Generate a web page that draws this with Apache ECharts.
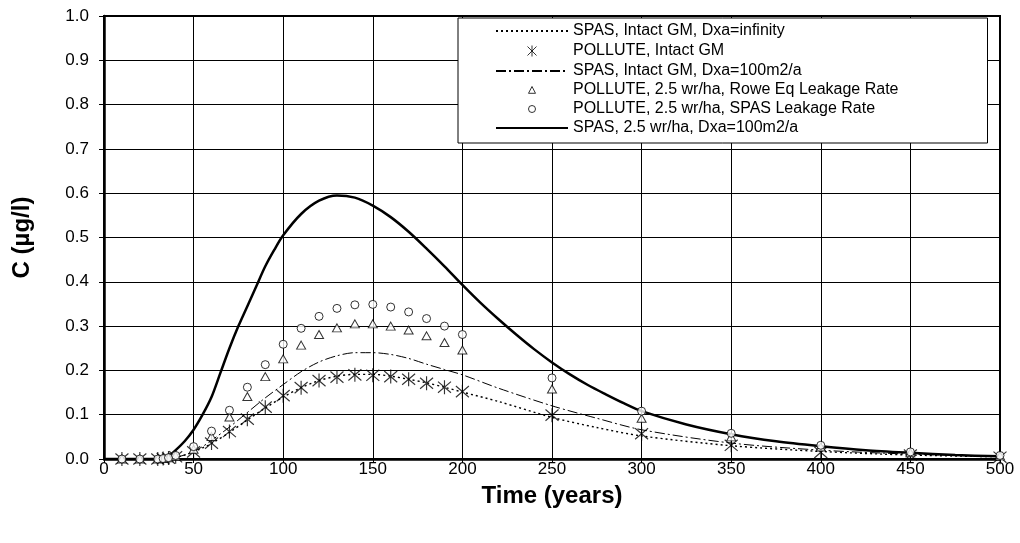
<!DOCTYPE html>
<html>
<head>
<meta charset="utf-8">
<script src="https://cdn.jsdelivr.net/npm/echarts@6/dist/echarts.min.js"></script>
<style>
html,body{margin:0;padding:0;background:#fff;}
#chart{width:1020px;height:543px;}
</style>
</head>
<body>
<div id="chart"></div>
<script>
// ---- Data ----
const seriesNames = [
  'SPAS, Intact GM, Dxa=infinity',
  'POLLUTE, Intact GM',
  'SPAS, Intact GM, Dxa=100m2/a',
  'POLLUTE, 2.5 wr/ha, Rowe Eq Leakage Rate',
  'POLLUTE, 2.5 wr/ha, SPAS Leakage Rate',
  'SPAS, 2.5 wr/ha, Dxa=100m2/a'
];

const xTicks = [0, 50, 100, 150, 200, 250, 300, 350, 400, 450, 500];
const yTicks = [0.0, 0.1, 0.2, 0.3, 0.4, 0.5, 0.6, 0.7, 0.8, 0.9, 1.0];

// POLLUTE sample times (shared by the three marker series)
const polluteTimes = [10, 20, 30, 33, 36, 40, 50, 60, 70, 80, 90, 100, 110, 120, 130, 140, 150, 160, 170, 180, 190, 200, 250, 300, 350, 400, 450, 500];
const polluteIntact = [0, 0, 0, 0.001, 0.002, 0.005, 0.016, 0.036, 0.062, 0.09, 0.117, 0.143, 0.161, 0.177, 0.185, 0.19, 0.189, 0.186, 0.18, 0.171, 0.162, 0.152, 0.099, 0.057, 0.031, 0.015, 0.009, 0.004];
const polluteRowe = [0, 0, 0, 0.001, 0.003, 0.007, 0.022, 0.051, 0.095, 0.141, 0.186, 0.226, 0.257, 0.281, 0.296, 0.305, 0.305, 0.300, 0.291, 0.278, 0.263, 0.246, 0.158, 0.092, 0.05, 0.027, 0.014, 0.007];
const polluteSpasRate = [0, 0, 0, 0.001, 0.003, 0.008, 0.028, 0.063, 0.11, 0.162, 0.213, 0.259, 0.295, 0.322, 0.34, 0.348, 0.349, 0.343, 0.332, 0.317, 0.3, 0.281, 0.183, 0.108, 0.058, 0.031, 0.016, 0.008];

// SPAS, Intact GM, Dxa=infinity (dotted)
const spasInfTimes = [0, 10, 20, 30, 35, 40, 45, 50, 55, 60, 70, 80, 90, 100, 110, 120, 130, 140, 150, 160, 170, 180, 190, 200, 220, 250, 275, 300, 350, 400, 450, 500];
const spasInfVals = [0, 0, 0, 0, 0.001, 0.004, 0.009, 0.016, 0.025, 0.035, 0.06, 0.088, 0.115, 0.14, 0.161, 0.177, 0.187, 0.191, 0.191, 0.187, 0.18, 0.172, 0.162, 0.151, 0.13, 0.094, 0.071, 0.052, 0.03, 0.017, 0.009, 0.005];

// SPAS, Intact GM, Dxa=100m2/a (dash-dot)
const spas100Times = [0, 30, 35, 40, 45, 50, 55, 60, 70, 80, 90, 100, 110, 120, 130, 140, 150, 160, 170, 180, 190, 200, 220, 250, 275, 300, 350, 400, 450, 500];
const spas100Vals = [0, 0, 0.001, 0.004, 0.009, 0.017, 0.028, 0.042, 0.072, 0.105, 0.138, 0.168, 0.197, 0.219, 0.233, 0.24, 0.24, 0.236, 0.227, 0.214, 0.202, 0.19, 0.16, 0.12, 0.092, 0.066, 0.036, 0.02, 0.011, 0.006];

// SPAS, 2.5 wr/ha, Dxa=100m2/a (solid)
const spasHoleTimes = [0, 30, 35, 40, 45, 50, 55, 60, 65, 70, 75, 80, 85, 90, 95, 100, 110, 120, 130, 140, 150, 160, 170, 180, 190, 200, 210, 220, 230, 240, 250, 260, 270, 280, 290, 300, 325, 350, 375, 400, 425, 450, 475, 500];
const spasHoleVals = [0, 0, 0.003, 0.02, 0.04, 0.066, 0.1, 0.14, 0.195, 0.25, 0.3, 0.345, 0.39, 0.435, 0.472, 0.505, 0.553, 0.583, 0.595, 0.59, 0.572, 0.546, 0.513, 0.475, 0.435, 0.393, 0.353, 0.316, 0.281, 0.248, 0.218, 0.191, 0.167, 0.146, 0.126, 0.108, 0.078, 0.056, 0.04, 0.029, 0.02, 0.014, 0.009, 0.006];

function pairs(xs, ys) { return xs.map((x, i) => [x, ys[i]]); }

const FONT = "'Liberation Sans', Arial, sans-serif";
const asteriskPath = 'path://M6,0L6,12M0.8,1.2L11.2,10.8M0.8,10.8L11.2,1.2';

const chart = echarts.init(document.getElementById('chart'), null, {renderer: 'canvas'});
chart.setOption({
  animation: false,
  backgroundColor: '#fff',
  textStyle: {fontFamily: FONT},
  grid: {left: 104, right: 20, top: 16, bottom: 84, show: true, borderColor: '#000', borderWidth: 2, backgroundColor: 'transparent'},
  xAxis: {
    type: 'value', min: 0, max: 500, interval: 50,
    name: 'Time (years)', nameLocation: 'middle', nameGap: 25,
    nameTextStyle: {fontFamily: FONT, fontSize: 24, fontWeight: 'bold', color: '#000'},
    axisLine: {show: true, lineStyle: {color: '#000', width: 2.5}},
    axisTick: {show: true, length: 4, lineStyle: {color: '#000'}},
    axisLabel: {fontFamily: FONT, fontSize: 17, color: '#000', margin: 2,
      formatter: v => xTicks.includes(v) ? String(v) : ''},
    splitLine: {show: true, lineStyle: {color: '#000', width: 1}}
  },
  yAxis: {
    type: 'value', min: 0, max: 1, interval: 0.1,
    name: 'C (µg/l)', nameLocation: 'middle', nameGap: 70,
    nameTextStyle: {fontFamily: FONT, fontSize: 24, fontWeight: 'bold', color: '#000'},
    axisLine: {show: true, lineStyle: {color: '#000', width: 2.5}},
    axisTick: {show: true, length: 5, inside: false, lineStyle: {color: '#000'}},
    axisLabel: {fontFamily: FONT, fontSize: 17, color: '#000', margin: 15,
      formatter: v => { const t = yTicks.find(k => Math.abs(k - v) < 1e-9); return t === undefined ? '' : t.toFixed(1); }},
    splitLine: {show: true, lineStyle: {color: '#000', width: 1}}
  },
  legend: {
    orient: 'vertical', left: 458, top: 18,
    backgroundColor: '#fff', borderColor: '#000', borderWidth: 1,
    padding: [5, 89, 7, 37],
    itemWidth: 72, itemHeight: 13, itemGap: 3,
    textStyle: {fontFamily: FONT, fontSize: 16, lineHeight: 16, color: '#000'},
    data: [
      {name: seriesNames[0], itemStyle: {opacity: 0}},
      {name: seriesNames[1], icon: 'path://M0,0M13,13M6.5,1L6.5,12M2,2L11,11M2,11L11,2', itemStyle: {color: 'none', borderColor: '#000', borderWidth: 1}},
      {name: seriesNames[2], itemStyle: {opacity: 0}},
      {name: seriesNames[3], icon: 'path://M0,0M13,13M6.5,3L10,9.8L3,9.8Z', itemStyle: {color: '#fff', borderColor: '#000', borderWidth: 1}},
      {name: seriesNames[4], icon: 'path://M0,0M13,13M10,6.5A3.5,3.5,0,1,0,3,6.5A3.5,3.5,0,1,0,10,6.5Z', itemStyle: {color: '#fff', borderColor: '#000', borderWidth: 1}},
      {name: seriesNames[5], itemStyle: {opacity: 0}}
    ]
  },
  series: [
    {
      name: seriesNames[0], type: 'line', data: pairs(spasInfTimes, spasInfVals),
      showSymbol: false, symbol: 'none', smooth: 0.3, z: 3,
      lineStyle: {color: '#000', width: 1.4, type: [2, 3]}
    },
    {
      name: seriesNames[1], type: 'scatter', data: pairs(polluteTimes, polluteIntact),
      symbol: asteriskPath, symbolSize: [13, 14], z: 4,
      itemStyle: {color: 'none', borderColor: '#000', borderWidth: 1.2}
    },
    {
      name: seriesNames[2], type: 'line', data: pairs(spas100Times, spas100Vals),
      showSymbol: false, symbol: 'none', smooth: 0.3, z: 3,
      lineStyle: {color: '#000', width: 1, type: [10, 3, 2, 3]}
    },
    {
      name: seriesNames[3], type: 'scatter', data: pairs(polluteTimes, polluteRowe),
      symbol: 'triangle', symbolSize: [9, 8], z: 4,
      itemStyle: {color: '#fff', borderColor: '#000', borderWidth: 1}
    },
    {
      name: seriesNames[4], type: 'scatter', data: pairs(polluteTimes, polluteSpasRate),
      symbol: 'circle', symbolSize: 8, z: 4,
      itemStyle: {color: '#fff', borderColor: '#000', borderWidth: 1}
    },
    {
      name: seriesNames[5], type: 'line', data: pairs(spasHoleTimes, spasHoleVals),
      showSymbol: false, symbol: 'none', smooth: 0.3, z: 3,
      lineStyle: {color: '#000', width: 2.5, type: 'solid'}
    }
  ]
});
</script>
</body>
</html>
